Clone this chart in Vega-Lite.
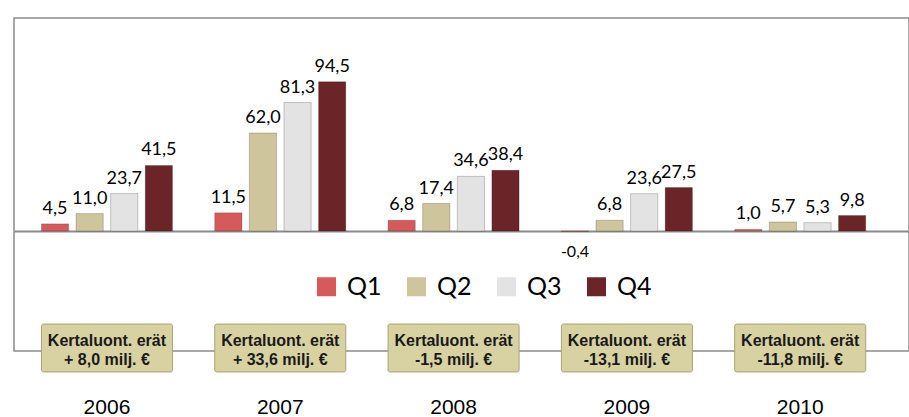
{
  "$schema": "https://vega.github.io/schema/vega-lite/v6.json",
  "width": 895,
  "height": 333,
  "autosize": {"type": "none"},
  "padding": {"left": 14, "top": 18, "right": 0, "bottom": 66},
  "background": "white",
  "config": {
    "view": {"stroke": "#8c8c8c", "strokeWidth": 1.5}
  },
  "data": {"values": [
      {"year": 2006, "quarter": "Q1", "value": 4.5},
      {"year": 2006, "quarter": "Q2", "value": 11.0},
      {"year": 2006, "quarter": "Q3", "value": 23.7},
      {"year": 2006, "quarter": "Q4", "value": 41.5},
      {"year": 2007, "quarter": "Q1", "value": 11.5},
      {"year": 2007, "quarter": "Q2", "value": 62.0},
      {"year": 2007, "quarter": "Q3", "value": 81.3},
      {"year": 2007, "quarter": "Q4", "value": 94.5},
      {"year": 2008, "quarter": "Q1", "value": 6.8},
      {"year": 2008, "quarter": "Q2", "value": 17.4},
      {"year": 2008, "quarter": "Q3", "value": 34.6},
      {"year": 2008, "quarter": "Q4", "value": 38.4},
      {"year": 2009, "quarter": "Q1", "value": -0.4},
      {"year": 2009, "quarter": "Q2", "value": 6.8},
      {"year": 2009, "quarter": "Q3", "value": 23.6},
      {"year": 2009, "quarter": "Q4", "value": 27.5},
      {"year": 2010, "quarter": "Q1", "value": 1.0},
      {"year": 2010, "quarter": "Q2", "value": 5.7},
      {"year": 2010, "quarter": "Q3", "value": 5.3},
      {"year": 2010, "quarter": "Q4", "value": 9.8}
  ]},
  "layer": [
    {
      "mark": {"type": "bar", "stroke": "rgba(0,0,0,0.2)", "strokeWidth": 1},
      "encoding": {
        "x": {
          "field": "year", "type": "ordinal",
          "scale": {"paddingInner": 0.244, "paddingOuter": 0.204, "align": 0.388},
          "axis": {"title": null, "domain": false, "ticks": false, "labelAngle": 0, "labelPadding": 45, "labelFont": "Liberation Sans", "labelFontSize": 21, "labelColor": "#000000"}
        },
        "xOffset": {"field": "quarter", "type": "nominal", "scale": {"paddingInner": 0.214}},
        "y": {
          "field": "value", "type": "quantitative",
          "scale": {"domain": [-75.95, 134.81], "nice": false, "zero": false},
          "axis": {"title": null, "values": [138.6, 0, -79.7], "labels": false, "ticks": false, "domain": false, "grid": true,
                   "gridColor": {"condition": {"test": "datum.value === 0", "value": "#8a8a8a"}, "value": "#d4d4d4"},
                   "gridWidth": {"condition": {"test": "datum.value === 0", "value": 2}, "value": 1.5}}
        },
        "color": {
          "field": "quarter", "type": "nominal",
          "scale": {"domain": ["Q1", "Q2", "Q3", "Q4"], "range": ["#d65a5c", "#cec59c", "#e3e3e3", "#6b2427"]},
          "legend": {"orient": "none", "legendX": 300, "legendY": 256, "direction": "horizontal", "title": null, "symbolType": "square", "symbolSize": 361, "symbolStrokeWidth": 0, "labelFont": "Lato", "labelFontSize": 25, "labelColor": "#000000", "labelOffset": 8, "columnPadding": 22}
        }
      }
    },
    {
      "transform": [{"filter": "datum.value >= 0"}, {"calculate": "replace(format(datum.value, '.1f'), '.', ',')", "as": "lbl"}],
      "mark": {"type": "text", "font": "Lato", "fontSize": 18, "color": "#000000", "baseline": "alphabetic", "dy": -10},
      "encoding": {
        "x": {"field": "year", "type": "ordinal"},
        "xOffset": {"field": "quarter", "type": "nominal"},
        "y": {"field": "value", "type": "quantitative"},
        "text": {"field": "lbl", "type": "nominal"}
      }
    },
    {
      "transform": [{"filter": "datum.value < 0"}, {"calculate": "'-' + replace(format(abs(datum.value), '.1f'), '.', ',')", "as": "lbl"}],
      "mark": {"type": "text", "font": "Lato", "fontSize": 16, "color": "#000000", "baseline": "alphabetic", "dy": 25},
      "encoding": {
        "x": {"field": "year", "type": "ordinal"},
        "xOffset": {"field": "quarter", "type": "nominal"},
        "y": {"field": "value", "type": "quantitative"},
        "text": {"field": "lbl", "type": "nominal"}
      }
    },
    {
      "data": {"values": [
        {"year": 2006, "line1": "Kertaluont. erät", "line2": "+ 8,0 milj. €"},
        {"year": 2007, "line1": "Kertaluont. erät", "line2": "+ 33,6 milj. €"},
        {"year": 2008, "line1": "Kertaluont. erät", "line2": "-1,5 milj. €"},
        {"year": 2009, "line1": "Kertaluont. erät", "line2": "-13,1 milj. €"},
        {"year": 2010, "line1": "Kertaluont. erät", "line2": "-11,8 milj. €"}
      ]},
      "mark": {"type": "rect", "cornerRadius": 2, "stroke": "#a9a274", "strokeWidth": 1, "color": "#d8d2a2"},
      "encoding": {
        "x": {"field": "year", "type": "ordinal"},
        "y": {"datum": -58.9, "type": "quantitative"},
        "y2": {"datum": -89.2}
      }
    },
    {
      "data": {"values": [
        {"year": 2006, "line1": "Kertaluont. erät", "line2": "+ 8,0 milj. €"},
        {"year": 2007, "line1": "Kertaluont. erät", "line2": "+ 33,6 milj. €"},
        {"year": 2008, "line1": "Kertaluont. erät", "line2": "-1,5 milj. €"},
        {"year": 2009, "line1": "Kertaluont. erät", "line2": "-13,1 milj. €"},
        {"year": 2010, "line1": "Kertaluont. erät", "line2": "-11,8 milj. €"}
      ]},
      "mark": {"type": "text", "font": "Liberation Sans", "fontWeight": "bold", "fontSize": 16, "color": "#1a1a1a", "baseline": "middle", "align": "center"},
      "encoding": {
        "x": {"field": "year", "type": "ordinal"},
        "y": {"datum": -69.6, "type": "quantitative"},
        "text": {"field": "line1", "type": "nominal"}
      }
    },
    {
      "data": {"values": [
        {"year": 2006, "line1": "Kertaluont. erät", "line2": "+ 8,0 milj. €"},
        {"year": 2007, "line1": "Kertaluont. erät", "line2": "+ 33,6 milj. €"},
        {"year": 2008, "line1": "Kertaluont. erät", "line2": "-1,5 milj. €"},
        {"year": 2009, "line1": "Kertaluont. erät", "line2": "-13,1 milj. €"},
        {"year": 2010, "line1": "Kertaluont. erät", "line2": "-11,8 milj. €"}
      ]},
      "mark": {"type": "text", "font": "Liberation Sans", "fontWeight": "bold", "fontSize": 16, "color": "#1a1a1a", "baseline": "middle", "align": "center"},
      "encoding": {
        "x": {"field": "year", "type": "ordinal"},
        "y": {"datum": -81.6, "type": "quantitative"},
        "text": {"field": "line2", "type": "nominal"}
      }
    }
  ]
}
